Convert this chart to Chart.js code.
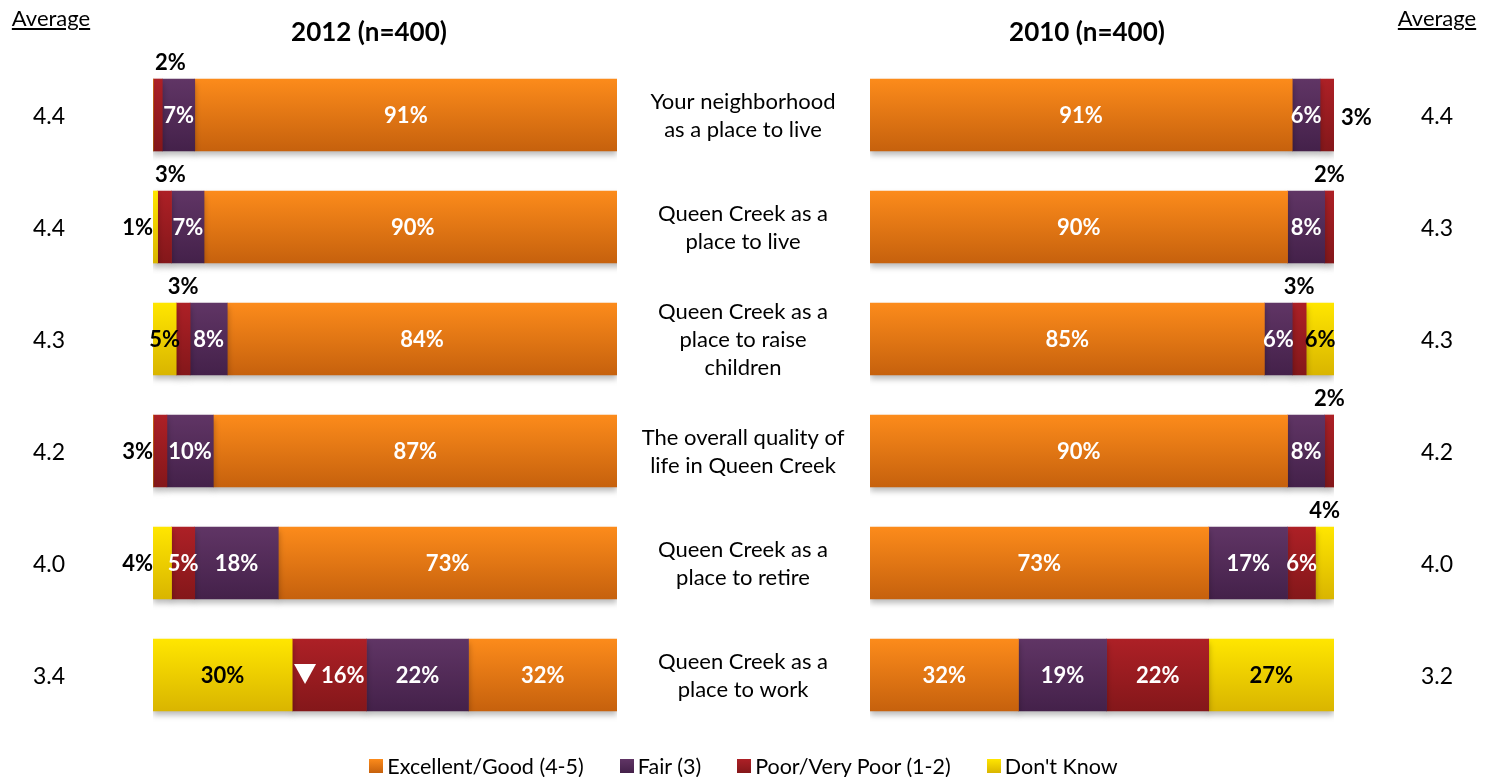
<!DOCTYPE html>
<html>
<head>
<meta charset="utf-8">
<script src="https://cdn.jsdelivr.net/npm/chart.js@4.4.0/dist/chart.umd.min.js"></script>
<style>
  body { margin: 0; background: #fff; font-family: Lato, "Open Sans", sans-serif; }
  #wrap { position: relative; width: 1487px; height: 777px; overflow: hidden; }
  canvas { position: absolute; left: 0; top: 0; }
  .title { position: absolute; top: 15px; font-weight: bold; font-size: 26px; line-height: 32px; color: #000; transform: translateX(-50%); white-space: nowrap; }
  .avgHead { position: absolute; top: 4px; font-size: 22px; line-height: 28px; text-decoration: underline; transform: translateX(-50%); }
  #legend { position: absolute; top: 752px; left: 0; width: 1487px; display: flex; justify-content: center; font-size: 21.5px; line-height: 28px; color: #000; }
  #legend span.item { display: flex; align-items: center; margin: 0 18px; }
  #legend span.sw { display: inline-block; width: 14px; height: 14px; margin-right: 4px; }
</style>
</head>
<body>
<div id="wrap">
  <canvas id="chart2012" width="1487" height="777"></canvas>
  <canvas id="chart2010" width="1487" height="777"></canvas>
  <div class="avgHead" style="left:51px">Average</div>
  <div class="avgHead" style="left:1437px">Average</div>
  <div class="title" style="left:369px">2012 (n=400)</div>
  <div class="title" style="left:1087px">2010 (n=400)</div>
  <div id="legend"></div>
</div>
<script>
const categories = [
    ['Your neighborhood', 'as a place to live'],
    ['Queen Creek as a', 'place to live'],
    ['Queen Creek as a', 'place to raise', 'children'],
    ['The overall quality of', 'life in Queen Creek'],
    ['Queen Creek as a', 'place to retire'],
    ['Queen Creek as a', 'place to work']
];

// 2012 results (left chart)
const excellent2012 = [91, 90, 84, 87, 73, 32];
const fair2012 = [7, 7, 8, 10, 18, 22];
const poor2012 = [2, 3, 3, 3, 5, 16];
const dontKnow2012 = [0, 1, 5, 0, 4, 30];
const average2012 = [4.4, 4.4, 4.3, 4.2, 4.0, 3.4];

// 2010 results (right chart)
const excellent2010 = [91, 90, 85, 90, 73, 32];
const fair2010 = [6, 8, 6, 8, 17, 19];
const poor2010 = [3, 2, 3, 2, 6, 22];
const dontKnow2010 = [0, 0, 6, 0, 4, 27];
const average2010 = [4.4, 4.3, 4.3, 4.2, 4.0, 3.2];

// where each value label sits
const poorLabels2012 = ['above', 'above', 'above', 'outLeft', 'in', 'in'];
const dkLabels2012 = ['in', 'outLeft', 'in', 'in', 'outLeft', 'in'];
const poorMarker2012 = ['', '', '', '', '', 'down'];
const poorLabels2010 = ['outRight', 'above', 'above', 'above', 'in', 'in'];
const dkLabels2010 = ['in', 'in', 'in', 'in', 'above', 'in'];

const seriesNames = ['Excellent/Good (4-5)', 'Fair (3)', 'Poor/Very Poor (1-2)', "Don't Know"];
const seriesColors = {
    excellent: ['#fc8b1b', '#c6610d'],
    fair: ['#603565', '#44214a'],
    poor: ['#ad2026', '#84171a'],
    dontKnow: ['#ffe600', '#d9b500']
};

const FONT = 'Lato, "Open Sans", sans-serif';

function gradientFill(pair) {
    return function(context) {
        const chart = context.chart;
        if (!chart.chartArea) return pair[0];
        const yc = chart.scales.y.getPixelForValue(context.dataIndex);
        const g = chart.ctx.createLinearGradient(0, yc - 36, 0, yc + 36);
        g.addColorStop(0, pair[0]);
        g.addColorStop(1, pair[1]);
        return g;
    };
}

function makeDataset(label, data, colors, placement, textColor, marker) {
    return {
        label: label,
        data: data,
        backgroundColor: gradientFill(colors),
        borderWidth: 0,
        barThickness: 72,
        placement: placement || data.map(() => 'in'),
        textColor: textColor || '#fff',
        marker: marker || data.map(() => '')
    };
}

const barShadow = {
    id: 'barShadow',
    beforeDatasetsDraw(chart) {
        const ctx = chart.ctx;
        ctx.save();
        ctx.shadowColor = 'rgba(0,0,0,0.28)';
        ctx.shadowOffsetY = 4;
        ctx.shadowBlur = 6;
    },
    afterDatasetsDraw(chart) {
        chart.ctx.restore();
    }
};

const valueLabels = {
    id: 'valueLabels',
    afterDatasetsDraw(chart) {
        const ctx = chart.ctx;
        const area = chart.chartArea;
        ctx.save();
        ctx.font = 'bold 22px ' + FONT;
        ctx.textBaseline = 'middle';
        chart.data.datasets.forEach((ds, di) => {
            const meta = chart.getDatasetMeta(di);
            meta.data.forEach((bar, i) => {
                const v = ds.data[i];
                if (!v) return;
                const text = v + '%';
                const left = Math.min(bar.x, bar.base);
                const right = Math.max(bar.x, bar.base);
                const cx = (left + right) / 2;
                const top = bar.y - bar.height / 2;
                const w = ctx.measureText(text).width;
                const where = ds.placement[i];
                if (where === 'in') {
                    ctx.fillStyle = ds.textColor;
                    ctx.textAlign = 'center';
                    if (ds.marker[i] === 'down') {
                        const tw = 22, gap = 5;
                        const start = cx - (tw + gap + w) / 2;
                        ctx.beginPath();
                        ctx.moveTo(start, bar.y - 11);
                        ctx.lineTo(start + tw, bar.y - 11);
                        ctx.lineTo(start + tw / 2, bar.y + 9);
                        ctx.closePath();
                        ctx.fillStyle = '#fff';
                        ctx.fill();
                        ctx.textAlign = 'left';
                        ctx.fillText(text, start + tw + gap, bar.y + 1);
                    } else {
                        ctx.fillText(text, cx, bar.y + 1);
                    }
                } else if (where === 'above') {
                    ctx.fillStyle = '#000';
                    ctx.textAlign = 'center';
                    let x = Math.max(cx, area.left + w / 2 + 2);
                    ctx.fillText(text, x, top - 16);
                } else if (where === 'outLeft') {
                    ctx.fillStyle = '#000';
                    ctx.textAlign = 'right';
                    ctx.fillText(text, area.left, bar.y + 1);
                } else if (where === 'outRight') {
                    ctx.fillStyle = '#000';
                    ctx.textAlign = 'left';
                    ctx.fillText(text, right + 7, bar.y + 3);
                }
            });
        });
        ctx.restore();
    }
};

// average column, and optionally the category labels in the middle
function sideText(averages, avgX, showCategories) {
    return {
        id: 'sideText',
        afterDraw(chart) {
            const ctx = chart.ctx;
            const y = chart.scales.y;
            ctx.save();
            ctx.fillStyle = '#000';
            ctx.textAlign = 'center';
            ctx.textBaseline = 'middle';
            ctx.font = '23px ' + FONT;
            averages.forEach((a, i) => {
                ctx.fillText(a.toFixed(1), avgX, y.getPixelForValue(i) + 2);
            });
            if (showCategories) {
                ctx.font = '22px ' + FONT;
                categories.forEach((lines, i) => {
                    const yc = y.getPixelForValue(i);
                    const lh = 28;
                    const y0 = yc - (lines.length - 1) * lh / 2;
                    lines.forEach((ln, k) => ctx.fillText(ln, 743, y0 + k * lh + 1));
                });
            }
            ctx.restore();
        }
    };
}

function baseOptions(padLeft, padRight) {
    return {
        indexAxis: 'y',
        responsive: false,
        animation: false,
        layout: { padding: { left: padLeft, right: padRight, top: 59, bottom: 46 } },
        scales: {
            x: { stacked: true, min: 0, max: 100, display: false },
            y: { stacked: true, display: false, offset: true }
        },
        plugins: { legend: { display: false }, tooltip: { enabled: false } }
    };
}

const labels = categories.map(c => c.join(' '));

new Chart(document.getElementById('chart2012').getContext('2d'), {
    type: 'bar',
    data: {
        labels: labels,
        datasets: [
            makeDataset(seriesNames[3], dontKnow2012, seriesColors.dontKnow, dkLabels2012, '#000'),
            makeDataset(seriesNames[2], poor2012, seriesColors.poor, poorLabels2012, '#fff', poorMarker2012),
            makeDataset(seriesNames[1], fair2012, seriesColors.fair),
            makeDataset(seriesNames[0], excellent2012, seriesColors.excellent)
        ]
    },
    options: baseOptions(153, 870),
    plugins: [barShadow, valueLabels, sideText(average2012, 49, false)]
});

new Chart(document.getElementById('chart2010').getContext('2d'), {
    type: 'bar',
    data: {
        labels: labels,
        datasets: [
            makeDataset(seriesNames[0], excellent2010, seriesColors.excellent),
            makeDataset(seriesNames[1], fair2010, seriesColors.fair),
            makeDataset(seriesNames[2], poor2010, seriesColors.poor, poorLabels2010),
            makeDataset(seriesNames[3], dontKnow2010, seriesColors.dontKnow, dkLabels2010, '#000')
        ]
    },
    options: baseOptions(870, 153),
    plugins: [barShadow, valueLabels, sideText(average2010, 1437, true)]
});

// legend
const legendEl = document.getElementById('legend');
const legendColors = [seriesColors.excellent, seriesColors.fair, seriesColors.poor, seriesColors.dontKnow];
seriesNames.forEach((name, i) => {
    const item = document.createElement('span');
    item.className = 'item';
    const sw = document.createElement('span');
    sw.className = 'sw';
    sw.style.background = 'linear-gradient(' + legendColors[i][0] + ',' + legendColors[i][1] + ')';
    item.appendChild(sw);
    item.appendChild(document.createTextNode(name));
    legendEl.appendChild(item);
});
</script>
</body>
</html>
